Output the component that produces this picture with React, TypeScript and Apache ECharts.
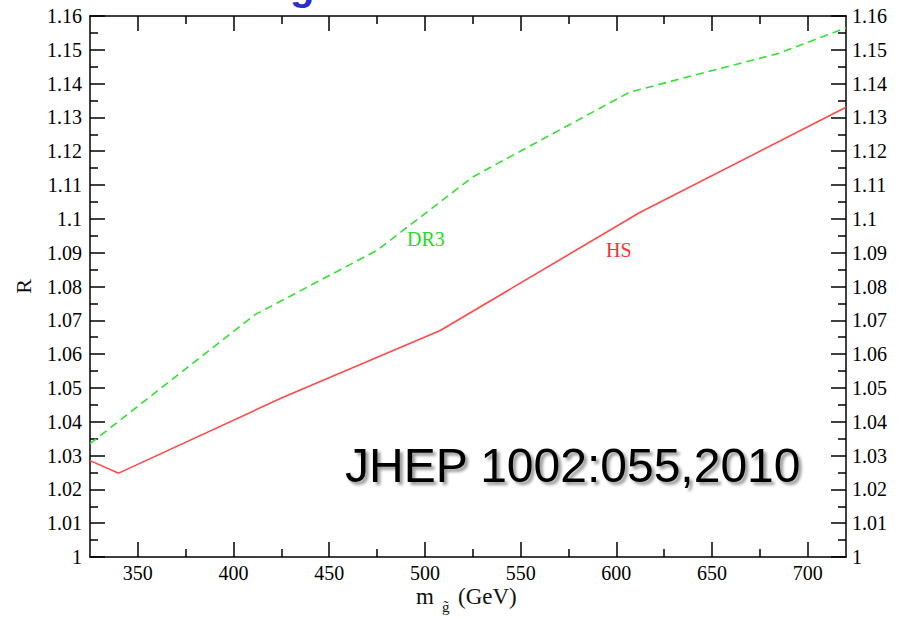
import React, { useEffect, useRef } from 'react';
import * as echarts from 'echarts';

const xMajorTicks = [350, 400, 450, 500, 550, 600, 650, 700];
const xMinorTicks = [375, 425, 475, 525, 575, 625, 675];
const drMass = [325, 411, 475, 525, 607, 685, 720];
const drR = [1.0335, 1.0716, 1.0907, 1.1124, 1.1375, 1.149, 1.1565];
const hsMass = [325, 340, 425, 508, 612, 720];
const hsR = [1.0285, 1.0248, 1.047, 1.067, 1.1018, 1.133];

const SERIF = 'Liberation Serif';
const SANS = 'Liberation Sans';

export default function App() {
  const ref = useRef<HTMLDivElement>(null);
  useEffect(() => {
    if (!ref.current) return;
    const chart = echarts.init(ref.current, null, { renderer: 'svg' });
    const axisLine = { show: true, lineStyle: { color: '#000', width: 1.5 } };
    const xBase = { type: 'value', min: 325, max: 720, splitLine: { show: false } };
    const yBase = {
      type: 'value', min: 1, max: 1.16, interval: 0.01, splitLine: { show: false },
      axisLine,
      axisTick: { show: true, inside: true, length: 15, lineStyle: { color: '#000', width: 1.5 } },
      minorTick: { show: true, splitNumber: 2, length: 8, lineStyle: { color: '#000', width: 1.5 } },
      minorSplitLine: { show: false },
    };
    const labelStyle = { color: '#000', fontFamily: SERIF, fontSize: 20 };
    chart.setOption({
      animation: false,
      backgroundColor: '#fff',
      grid: { left: 90, right: 55, top: 16, bottom: 62 },
      xAxis: [
        {
          ...xBase, position: 'bottom', axisLine,
          axisTick: { show: true, inside: true, length: 15, customValues: xMajorTicks, lineStyle: { color: '#000', width: 1.5 } },
          axisLabel: { show: true, customValues: xMajorTicks, margin: 6, ...labelStyle },
        },
        {
          ...xBase, position: 'bottom', axisLine: { show: false },
          axisTick: { show: true, inside: true, length: 8, customValues: xMinorTicks, lineStyle: { color: '#000', width: 1.5 } },
          axisLabel: { show: false },
        },
        {
          ...xBase, position: 'top', axisLine,
          axisTick: { show: true, inside: true, length: 15, customValues: xMajorTicks, lineStyle: { color: '#000', width: 1.5 } },
          axisLabel: { show: false },
        },
        {
          ...xBase, position: 'top', axisLine: { show: false },
          axisTick: { show: true, inside: true, length: 8, customValues: xMinorTicks, lineStyle: { color: '#000', width: 1.5 } },
          axisLabel: { show: false },
        },
      ],
      yAxis: [
        {
          ...yBase, position: 'left',
          name: 'R', nameLocation: 'middle', nameRotate: 90, nameGap: 56,
          nameTextStyle: { color: '#111', fontFamily: SERIF, fontSize: 22 },
          axisLabel: { show: true, margin: 8, ...labelStyle },
        },
        {
          ...yBase, position: 'right',
          axisLabel: { show: true, margin: 6, ...labelStyle },
        },
      ],
      series: [
        {
          name: 'DR3', type: 'line', xAxisIndex: 0, yAxisIndex: 0,
          data: drMass.map((m, i) => [m, drR[i]]),
          showSymbol: false, symbol: 'none',
          lineStyle: { color: '#33e033', width: 1.6, type: [8, 5] },
        },
        {
          name: 'HS', type: 'line', xAxisIndex: 0, yAxisIndex: 0,
          data: hsMass.map((m, i) => [m, hsR[i]]),
          showSymbol: false, symbol: 'none',
          lineStyle: { color: '#ff4a4a', width: 1.6 },
        },
      ],
      graphic: [
        { type: 'text', left: 290, top: -34, style: { text: 'g', font: `bold 40px ${SANS}`, fill: '#2b2bd0' } },
        { type: 'text', left: 407, top: 229, style: { text: 'DR3', font: `20px ${SERIF}`, fill: '#22dd22' } },
        { type: 'text', left: 606, top: 240, style: { text: 'HS', font: `20px ${SERIF}`, fill: '#ff3030' } },
        {
          type: 'text', left: 345, top: 441,
          style: {
            text: 'JHEP 1002:055,2010', font: `48px ${SANS}`, fill: '#000',
            textShadowColor: 'rgba(0,0,0,0.4)', textShadowOffsetX: 3, textShadowOffsetY: 3, textShadowBlur: 3,
          },
        },
        { type: 'text', left: 416, top: 585, style: { text: 'm', font: `23px ${SERIF}`, fill: '#111' } },
        { type: 'text', left: 442, top: 599, style: { text: 'g\u0303', font: `15px ${SERIF}`, fill: '#111' } },
        { type: 'text', left: 458, top: 585, style: { text: '(GeV)', font: `23px ${SERIF}`, fill: '#111' } },
      ],
    });
    return () => chart.dispose();
  }, []);
  return <div ref={ref} style={{ position: 'fixed', left: 0, top: 0, width: 901, height: 619 }} />;
}
